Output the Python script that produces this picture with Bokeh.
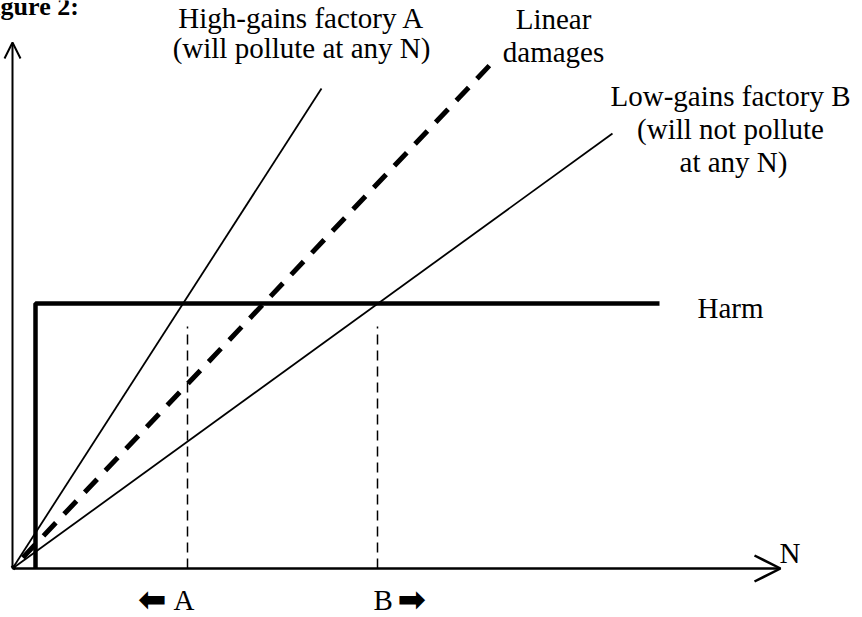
from bokeh.plotting import figure
from bokeh.models import Range1d, Arrow, OpenHead
from bokeh.core.properties import value
from bokeh.embed import file_html
from bokeh.resources import INLINE

# ---- data (diagram units: N along x, value along y) ----
line_names = ["High-gains factory A", "Linear damages", "Low-gains factory B"]
line_x_end = [30.9, 47.7, 60.0]
line_y_end = [48.0, 50.3, 43.5]
harm_level = 26.5
harm_start = 2.3
harm_end = 64.7
thresholds = [17.5, 36.5]          # N where A and B gains equal the harm
threshold_dash_top = 24.2
x_axis_end = 76.8
y_axis_end = 52.6

SERIF = value("Liberation Serif")
DY = 1.05   # lift so that text baselines sit where intended

p = figure(width=862, height=617, output_backend="svg", toolbar_location=None,
           x_range=Range1d(-1.2, 85.0), y_range=Range1d(-4.9, 56.8),
           min_border=0, margin=(0, 0, 0, 0))
p.axis.visible = False
p.grid.visible = False
p.outline_line_color = None
p.background_fill_color = "white"
p.border_fill_color = "white"

# axes with open arrow heads
p.add_layout(Arrow(end=OpenHead(size=16, line_width=2, line_color="black"),
                   x_start=0, y_start=0, x_end=0, y_end=y_axis_end,
                   line_width=2, line_color="black"))
p.add_layout(Arrow(end=OpenHead(size=26, line_width=2.5, line_color="black"),
                   x_start=0, y_start=0, x_end=x_axis_end, y_end=0,
                   line_width=2.5, line_color="black"))

# harm step
p.line([harm_start, harm_start, harm_end], [0, harm_level, harm_level],
       line_width=4.5, line_color="black")

# gains lines (A, B) and linear damages (dashed)
p.segment([0], [0], [line_x_end[0]], [line_y_end[0]], line_width=1.8, line_color="black")
p.segment([0], [0], [line_x_end[2]], [line_y_end[2]], line_width=1.8, line_color="black")
p.segment([0], [0], [line_x_end[1]], [line_y_end[1]], line_width=5, line_color="black",
          line_dash="18 12", line_dash_offset=15)

# threshold verticals
p.segment(thresholds, [0, 0], thresholds, [threshold_dash_top] * 2,
          line_width=1.5, line_color="black", line_dash="10 6")

# labels
def label(xs, ys, texts, size="29px", align="center", font=SERIF, style="normal"):
    p.text(x=xs, y=[y + DY for y in ys], text=texts, text_font=font,
           text_font_size=size, text_align=align, text_baseline="alphabetic",
           text_color="black", text_font_style=style)

label([-3.5], [55.2], ["Figure 2:"], size="26px", align="left", style="bold")
label([28.9, 28.9], [54.0, 51.0], ["High-gains factory A", "(will pollute at any N)"])
label([54.1, 54.1], [53.9, 50.6], ["Linear", "damages"])
label([71.8, 71.8, 72.1], [46.2, 42.9, 39.6],
      ["Low-gains factory B", "(will not pollute", "at any N)"])
label([68.5], [25.0], ["Harm"], align="left")
label([76.7], [0.5], ["N"], align="left")
label([16.1], [-4.2], ["A"], align="left")
label([36.1], [-4.2], ["B"], align="left")
label([15.4], [-4.1], ["\u2b05"], size="34px", align="right",
      font=value("DejaVu Sans"), style="bold")
label([38.5], [-4.1], ["\u27a1"], size="34px", align="left",
      font=value("DejaVu Sans"), style="bold")

open("out.html", "w").write(file_html(p, INLINE))
